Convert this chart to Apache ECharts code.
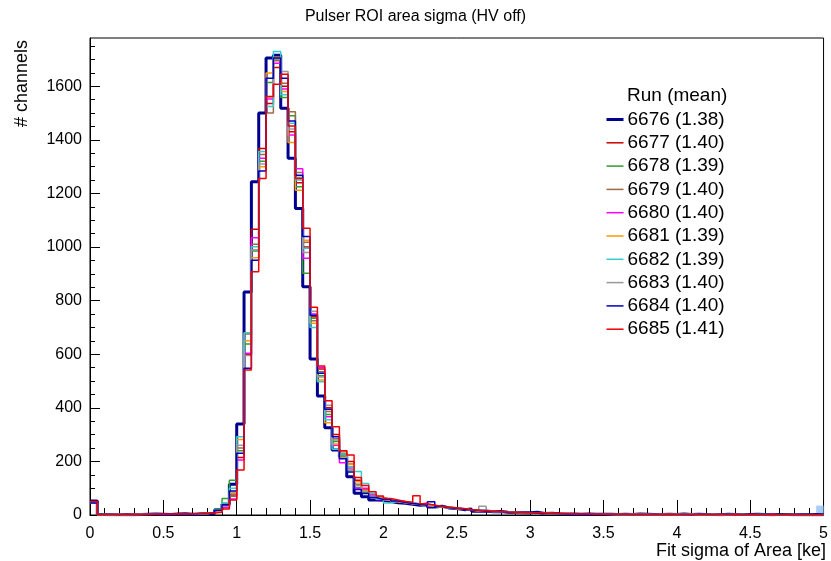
<!DOCTYPE html>
<html>
<head>
<meta charset="utf-8">
<script src="https://cdn.jsdelivr.net/npm/echarts@6/dist/echarts.min.js"></script>
<style>
html,body{margin:0;padding:0;background:#fff;}
#chart{width:831px;height:561px;}
</style>
</head>
<body>
<div id="chart"></div>
<script>
// Histogram binning (x axis: Fit sigma of Area [ke])
const binWidth = 0.05;
const xMin = 0;
const xMax = 5;
const yMax = 1780;

// Run labels (legend) and their means
const runs = ['6676', '6677', '6678', '6679', '6680', '6681', '6682', '6683', '6684', '6685'];
const means = ['1.38', '1.40', '1.39', '1.40', '1.40', '1.39', '1.39', '1.40', '1.40', '1.41'];

// Bin contents (100 bins of 0.05 from 0 to 5)
const h6676 = [52,2,1,1,2,1,2,3,4,3, 2,4,5,3,4,5,6,20,40,115,
  340,832,1244,1500,1705,1716,1518,1331,1144,852, 582,444,326,243,218,143,81,68,56,55,
  50,46,44,40,36,38,30,33,26,24, 20,22,14,15,12,13,10,9,8,8, 10,6,7,5,4,4,3,4,3,3,
  3,2,3,2,4,3,2,2,3,2, 4,2,3,2,2,1,3,2,2,2, 3,2,1,2,2,1,2,1,2,1];
const h6677 = [48,2,1,2,1,3,2,2,4,3, 5,4,3,4,6,7,9,14,35,75,
  215,600,1066,1368,1536,1670,1600,1430,1240,1000, 740,545,400,300,240,200,130,95,78,65,
  58,52,50,45,42,38,36,30,28,24, 22,19,17,15,14,12,11,10,9,8, 8,7,6,6,5,5,4,4,3,4,
  3,3,2,3,3,2,3,2,2,3, 2,2,1,2,2,2,1,2,1,2, 1,1,2,1,1,2,1,1,1,1];
const h6678 = [45,1,2,1,2,2,3,2,3,4, 3,3,5,4,5,6,10,22,62,130,
  240,638,985,1320,1614,1700,1558,1490,1225,902, 734,520,375,274,230,168,103,85,70,60,
  55,50,47,44,40,36,33,28,30,25, 21,18,17,14,13,11,12,9,8,7, 7,6,6,5,4,5,4,3,3,3,
  3,2,3,2,2,3,2,2,2,2, 3,2,2,1,2,2,1,2,2,1, 2,1,1,2,1,1,1,2,1,1];
const h6679 = [47,2,1,2,3,2,2,4,3,3, 4,5,4,3,5,6,8,16,30,70,
  250,675,1010,1345,1500,1695,1611,1505,1278,1018, 725,535,386,285,225,190,115,90,72,62,
  56,52,48,42,40,37,34,31,27,25, 23,19,16,15,12,12,10,9,9,7, 7,6,5,5,5,4,4,3,3,3,
  2,3,2,3,2,2,2,3,2,2, 2,2,2,1,2,1,2,1,2,1, 1,2,1,1,2,1,1,1,1,1];
const h6680 = [46,1,2,2,1,3,4,4,3,2, 3,4,4,5,4,6,9,12,28,60,
  205,604,1035,1331,1552,1686,1590,1418,1292,958, 750,550,367,260,195,175,100,100,74,58,
  54,50,46,43,40,45,34,30,27,24, 21,20,16,14,13,11,10,10,8,8, 7,6,5,5,4,4,4,3,3,3,
  3,2,2,3,2,2,3,2,2,2, 1,2,2,2,1,2,1,2,1,2, 1,1,2,1,1,1,2,1,1,1];
const h6681 = [44,2,2,1,2,2,3,3,4,3, 4,3,4,5,5,7,8,15,40,85,
  282,650,960,1300,1649,1708,1580,1390,1212,1025, 716,504,344,265,215,188,124,92,68,64,
  57,49,46,42,39,36,33,29,27,23, 22,18,16,15,13,12,10,9,8,8, 7,6,6,5,4,4,4,3,3,3,
  3,2,3,2,2,2,2,2,3,2, 2,2,1,2,2,1,2,2,1,1, 2,1,1,1,2,1,1,1,1,1];
const h6682 = [46,1,2,2,2,3,2,3,4,3, 3,4,5,4,6,5,9,20,45,100,
  292,680,1001,1356,1524,1730,1568,1462,1250,995, 700,497,355,245,220,180,162,118,80,60,
  45,52,47,43,41,37,34,30,27,24, 22,19,17,15,13,12,10,10,8,7, 8,6,5,5,5,4,3,4,3,3,
  2,3,2,2,3,2,2,2,2,2, 2,2,2,1,2,1,2,1,2,1, 1,2,1,1,1,1,2,1,1,1];
const h6683 = [49,2,1,2,2,2,3,3,3,4, 4,4,3,5,5,6,8,17,33,80,
  260,595,990,1310,1560,1702,1655,1440,1260,980, 760,515,410,280,228,170,110,88,70,66,
  56,51,48,44,40,37,35,31,28,26, 22,20,16,33,14,12,11,9,9,8, 7,7,6,5,5,4,4,4,3,3,
  3,2,2,3,2,2,2,2,2,3, 2,2,1,2,2,2,1,1,2,1, 1,2,1,1,1,2,1,1,1,1];
const h6684 = [45,2,2,1,3,2,2,3,3,4, 5,3,4,4,6,6,8,18,38,90,
  230,548,951,1284,1630,1705,1630,1470,1268,1039, 745,529,395,292,210,160,95,80,65,58,
  60,52,47,43,40,36,49,32,27,25, 21,19,17,14,13,12,10,9,9,8, 7,6,6,5,4,4,4,3,3,3,
  3,2,3,2,2,2,3,2,2,2, 2,1,2,2,1,2,2,1,1,2, 1,2,1,1,1,1,1,2,1,1];
const h6685 = [50,1,2,2,2,3,2,3,3,4, 4,5,4,5,5,6,7,10,22,56,
  168,541,908,1256,1562,1607,1645,1452,1256,1070, 775,556,426,329,240,224,140,110,87,71,
  62,56,50,48,72,42,36,33,29,26, 24,20,18,16,14,13,11,10,9,8, 8,7,6,6,5,5,4,4,3,3,
  3,3,3,2,3,2,2,2,3,2, 2,2,2,1,2,2,1,2,1,2, 1,1,2,1,1,1,1,1,2,1];
// light-blue filled last bin seen at the right edge
const lastBinFill = 35;

const hists = [h6676, h6677, h6678, h6679, h6680, h6681, h6682, h6683, h6684, h6685];
const colors = ['#00008f', '#cc0000', '#2e9e2e', '#9c6b45', '#ff00ff', '#ff9900', '#33cccc', '#999999', '#0000bb', '#ee0000'];
const widths = [3, 1.5, 1.5, 1.5, 1.5, 1.5, 1.5, 1.5, 1.5, 1.5];

function stepData(vals) {
  const d = vals.map((v, i) => [+(xMin + i * binWidth).toFixed(2), v]);
  d.push([xMax, vals[vals.length - 1]]);
  return d;
}

const FONT = "'Liberation Sans', Arial, Helvetica, sans-serif";
const names = runs.map((r, i) => r + ' (' + means[i] + ')');

const series = [{
  type: 'line',
  name: 'fill',
  step: 'end',
  symbol: 'none',
  silent: true,
  data: [[+(xMax - binWidth).toFixed(2), lastBinFill], [xMax, lastBinFill]],
  lineStyle: { width: 0 },
  areaStyle: { color: '#a6cdf4', opacity: 1 },
  z: 1
}];
hists.forEach((h, i) => {
  series.push({
    type: 'line',
    name: names[i],
    step: 'end',
    symbol: 'none',
    data: stepData(h),
    lineStyle: { color: colors[i], width: widths[i] },
    itemStyle: { color: colors[i] },
    z: 2
  });
});

const minorY = [];
for (let v = 50; v < yMax; v += 50) if (v % 200 !== 0) minorY.push(v);

const chart = echarts.init(document.getElementById('chart'));
chart.setOption({
  animation: false,
  backgroundColor: '#ffffff',
  title: {
    text: 'Pulser ROI area sigma (HV off)',
    left: 'center',
    top: 4,
    textStyle: { fontFamily: FONT, fontSize: 16, fontWeight: 'normal', color: '#000' }
  },
  graphic: [
    { type: 'text', x: 22, y: 40, rotation: Math.PI / 2,
      style: { text: '# channels', font: '18px ' + FONT, fill: '#000', align: 'right', verticalAlign: 'middle' } },
    { type: 'text', x: 826, y: 551,
      style: { text: 'Fit sigma of Area [ke]', font: '18px ' + FONT, fill: '#000', align: 'right', verticalAlign: 'middle' } },
    { type: 'text', x: 627, y: 96,
      style: { text: 'Run (mean)', font: '19px ' + FONT, fill: '#000', align: 'left', verticalAlign: 'middle' } }
  ],
  legend: {
    data: names.map((n, i) => ({ name: n, lineStyle: { width: widths[i] } })),
    orient: 'vertical',
    left: 605,
    top: 110,
    itemWidth: 17,
    itemHeight: 14,
    itemGap: 4.3,
    padding: 0,
    itemStyle: { opacity: 0 },
    textStyle: { fontFamily: FONT, fontSize: 19, color: '#000', lineHeight: 19, padding: [0, 0, 0, -1] }
  },
  grid: {
    left: 90, right: 5, top: 38, bottom: 46,
    show: true, borderColor: '#000', borderWidth: 1, backgroundColor: 'transparent'
  },
  xAxis: {
    type: 'value',
    min: xMin, max: xMax, interval: 0.5,
    axisLine: { show: true, onZero: false, lineStyle: { color: '#000', width: 1 } },
    axisTick: { show: true, inside: true, length: 15, lineStyle: { color: '#000' } },
    minorTick: { show: true, splitNumber: 5, length: 7, lineStyle: { color: '#000' } },
    axisLabel: { fontFamily: FONT, fontSize: 16, color: '#000', margin: 11 },
    splitLine: { show: false }
  },
  yAxis: [{
    type: 'value',
    min: 0, max: yMax, interval: 200,
    axisLine: { show: true, lineStyle: { color: '#000', width: 1 } },
    axisTick: { show: true, inside: true, length: 10, lineStyle: { color: '#000' } },
    axisLabel: { fontFamily: FONT, fontSize: 16, color: '#000', margin: 8, showMaxLabel: false,
      formatter: function (v) { return String(v); } },
    splitLine: { show: false }
  }, {
    type: 'value',
    min: 0, max: yMax,
    position: 'left',
    axisLine: { show: false },
    axisTick: { show: true, inside: true, length: 5, customValues: minorY, lineStyle: { color: '#000' } },
    axisLabel: { show: false },
    splitLine: { show: false }
  }],
  series: series
});
</script>
</body>
</html>
